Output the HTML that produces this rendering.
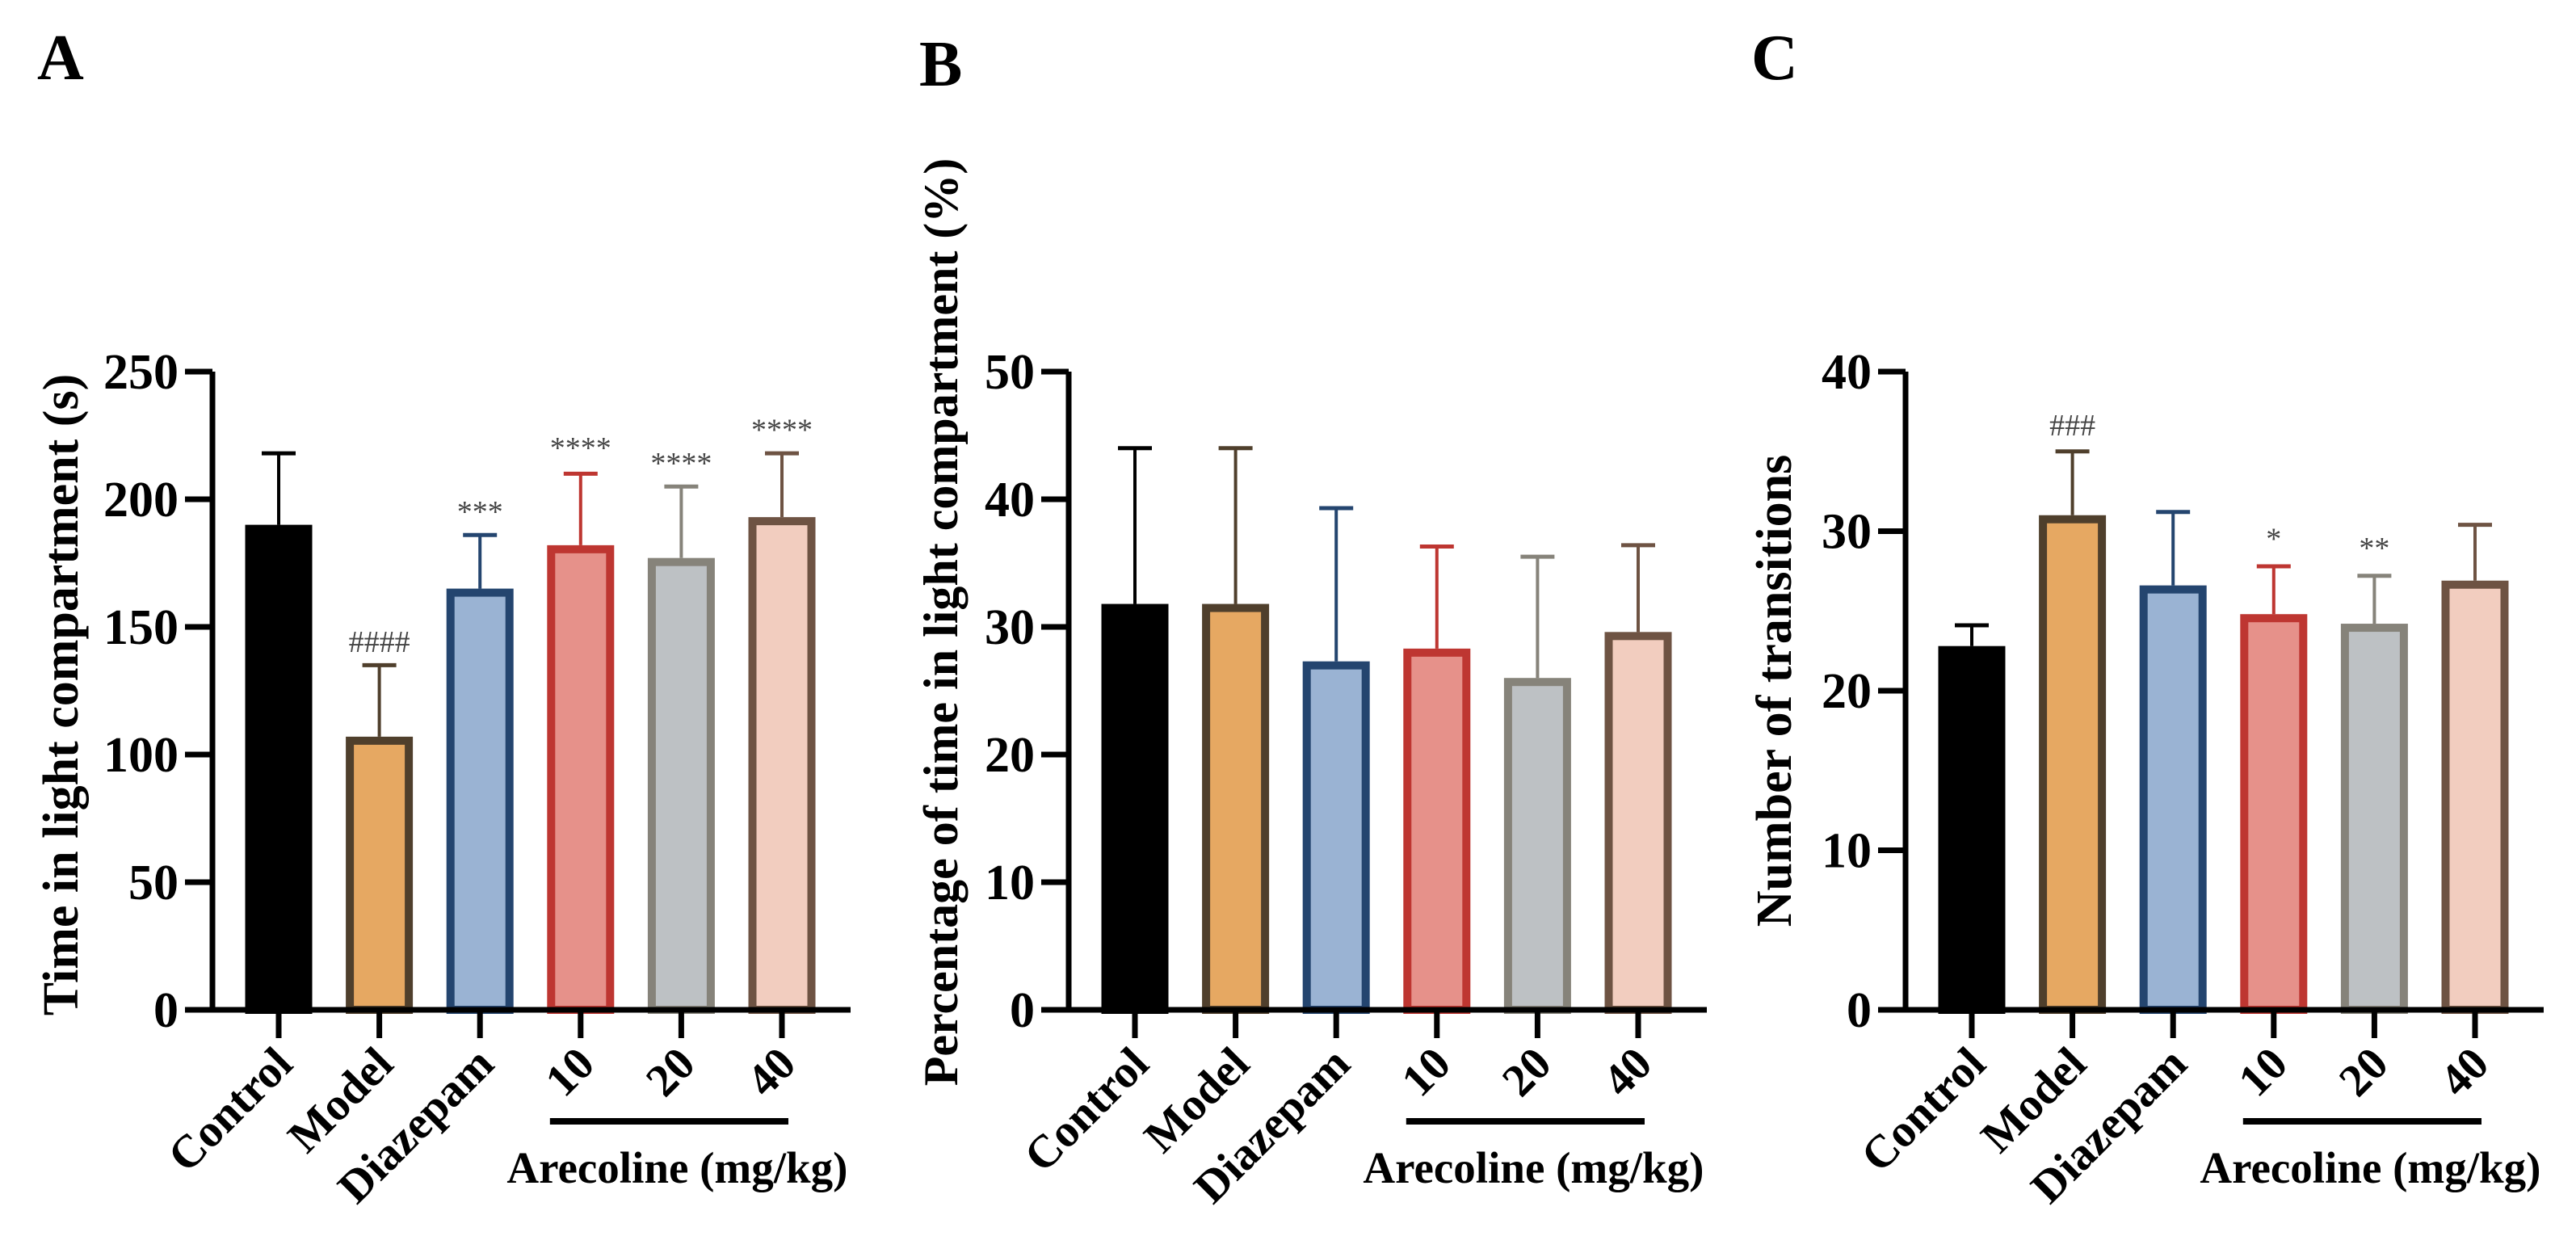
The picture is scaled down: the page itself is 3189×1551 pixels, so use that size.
<!DOCTYPE html>
<html><head><meta charset="utf-8">
<style>
html,body{margin:0;padding:0;background:#fff;}
svg{display:block;font-family:"Liberation Serif",serif;}
</style></head>
<body>
<svg id="fig" width="3189" height="1551" viewBox="0 0 3189 1551" xmlns="http://www.w3.org/2000/svg">
<text x="46" y="98" font-size="80" font-weight="bold">A</text>
<text x="1138" y="106" font-size="80" font-weight="bold">B</text>
<text x="2168" y="98" font-size="80" font-weight="bold">C</text>
</svg>
<script>
const categories = ["Control","Model","Diazepam","10","20","40"];
const fills = ["#000000","#E6A862","#9AB3D3","#E6918A","#BDC1C4","#F2CDBF"];
const borders = ["#000000","#4F3F2C","#24456F","#BE3631","#86837A","#6E5343"];

const valuesA = [190,107,165,182,177,193];
const errA = [218,135,186,210,205,218];
const ticksA = [0,50,100,150,200,250];
const annotA = ["","####","***","****","****","****"];
const annotPosA = [0,144,195,220,214,227];

const valuesB = [31.8,31.8,27.3,28.3,26.0,29.6];
const errB = [44,44,39.3,36.3,35.5,36.4];
const ticksB = [0,10,20,30,40,50];
const annotB = ["","","","","",""];
const annotPosB = [0,0,0,0,0,0];

const valuesC = [22.8,31.0,26.6,24.8,24.2,26.9];
const errC = [24.1,35.0,31.2,27.8,27.2,30.4];
const ticksC = [0,10,20,30,40];
const annotC = ["","###","","*","**",""];
const annotPosC = [0,36.6,0,29.5,28.9,0];

const NS="http://www.w3.org/2000/svg";
const svg=document.getElementById('fig');
function mk(tag,attrs,parent){const e=document.createElementNS(NS,tag);for(const k in attrs)e.setAttribute(k,attrs[k]);(parent||svg).appendChild(e);return e;}

function panel(id,axisX,ymax,ticks,vals,errs,annot,annotPos,title,titleX,titleY,titleSize){
  const y0=1250, yTop=460;
  const yScale=v=>y0-(v/ymax)*(y0-yTop);
  const step=124.6, first=axisX+82;
  const xScale=i=>first+i*step;
  const endX=xScale(5)+85;
  const g=mk('g',{});
  
  
  for(let i=0;i<vals.length;i++){
    const cx=xScale(i), top=yScale(vals[i]), et=yScale(errs[i]);
    const eb=mk('g',{},g);
    
    
    mk('line',{x1:cx,y1:top,x2:cx,y2:et,stroke:borders[i],'stroke-width':4},eb);
    mk('line',{x1:cx-21,y1:et,x2:cx+21,y2:et,stroke:borders[i],'stroke-width':5},eb);
    const r=mk('rect',{x:cx-36.5,y:top+5,width:73,height:y0-top-5,fill:fills[i],stroke:borders[i],'stroke-width':10},g);
    
    
    if(annot[i]){
      const t=mk('text',{x:cx,y:yScale(annotPos[i])+12,'text-anchor':'middle','font-size':38,fill:'#444'},g);
      
      
      t.textContent=annot[i];
    }
    mk('line',{x1:cx,y1:y0,x2:cx,y2:y0+35,stroke:'#000','stroke-width':7},g);
    const lab=mk('text',{x:cx+20,y:y0+70,'text-anchor':'end','font-size':57,'font-weight':'bold',transform:`rotate(-45 ${cx+20} ${y0+70})`},g);
    
    
    lab.textContent=categories[i];
  }
  const ax=mk('path',{d:`M${axisX} ${yTop} V${y0} M${axisX-34} ${y0} H${endX}`,stroke:'#000','stroke-width':7,fill:'none'},g);
  
  
  for(const t of ticks){
    const y=yScale(t);
    mk('line',{x1:axisX-34,y1:y,x2:axisX,y2:y,stroke:'#000','stroke-width':7},g);
    const tl=mk('text',{x:axisX-42,y:y+21,'text-anchor':'end','font-size':62,'font-weight':'bold'},g);
    
    
    tl.textContent=t;
  }
  const lx1=xScale(3)-38, lx2=xScale(5)+8;
  const gl=mk('line',{x1:lx1,y1:1388,x2:lx2,y2:1388,stroke:'#000','stroke-width':8},g);
  
  
  const gt=mk('text',{x:(lx1+lx2)/2+10,y:1464,'text-anchor':'middle','font-size':55,'font-weight':'bold'},g);
  
  
  gt.textContent='Arecoline (mg/kg)';
  const yt=mk('text',{x:titleX,y:titleY,'text-anchor':'middle','font-size':titleSize,'font-weight':'bold',transform:`rotate(-90 ${titleX} ${titleY})`},g);
  
  
  yt.textContent=title;
}
panel('panel-a',263,250,ticksA,valuesA,errA,annotA,annotPosA,'Time in light compartment (s)',96,860,62);
panel('panel-b',1323,50,ticksB,valuesB,errB,annotB,annotPosB,'Percentage of time in light compartment (%)',1185,770,60);
panel('panel-c',2359,40,ticksC,valuesC,errC,annotC,annotPosC,'Number of transitions',2217,855,62);
</script>
</body></html>
